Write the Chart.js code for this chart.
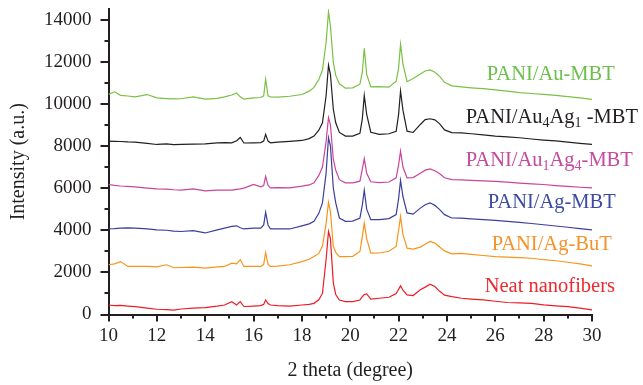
<!DOCTYPE html>
<html lang="en">
<head>
<meta charset="UTF-8" />
<title>XRD patterns - PANI nanofibers</title>
<script src="https://cdn.jsdelivr.net/npm/chart.js"></script>
<style>
  body { margin: 0; background: #fff; }
  #wrap { width: 643px; height: 385px; }
</style>
</head>
<body>
<div id="wrap"><canvas id="xrdChart" width="643" height="385"></canvas></div>
<script>
// 2 theta positions (degree) where the patterns were read
const twoTheta = [10, 10.25, 10.5, 10.8, 11.1, 11.6, 12, 12.4, 12.7, 13, 13.5, 14, 14.5, 14.8, 15.1,
  15.3, 15.45, 15.6, 16, 16.3, 16.42, 16.5, 16.6, 16.7, 17, 17.5, 18, 18.3, 18.5, 18.7,
  18.85, 19, 19.1, 19.18, 19.3, 19.4, 19.55, 19.8, 20.1, 20.4, 20.5, 20.58, 20.68, 20.85, 21.2,
  21.6, 21.9, 22.0, 22.08, 22.18, 22.35, 22.6, 22.9, 23.1, 23.3, 23.5, 23.7, 23.9, 24.2, 24.6,
  25, 25.5, 26, 26.5, 27, 27.5, 28, 28.5, 29, 29.5, 30];

const auMBT = [10450, 10570, 10400, 10370, 10330, 10440, 10280, 10250, 10230, 10240, 10330, 10220, 10260, 10330, 10420,
  10510, 10330, 10220, 10280, 10300, 10380, 11170, 10380, 10330, 10320, 10360, 10440, 10600, 10780, 11150,
  11600, 12900, 14370, 13700, 11970, 11350, 10950, 10740, 10760, 10930, 11500, 12640, 11400, 10800, 10820,
  10790, 11070, 11700, 12830, 11900, 11050, 11200, 11420, 11560, 11610, 11500, 11300, 11020, 10850, 10800,
  10760, 10720, 10660, 10600, 10530, 10490, 10450, 10400, 10340, 10280, 10210];

const au4ag1MBT = [8230, 8220, 8210, 8190, 8180, 8120, 8070, 8100, 8060, 8070, 8090, 8100, 8150, 8160, 8150,
  8250, 8400, 8140, 8150, 8160, 8230, 8550, 8230, 8150, 8180, 8220, 8260, 8350, 8470, 8750,
  9100, 10370, 11830, 11400, 9740, 9100, 8640, 8470, 8470, 8600, 9300, 10400, 9500, 8650, 8550,
  8580, 8700, 9500, 10610, 9700, 8700, 8640, 9020, 9250, 9290, 9240, 9050, 8760, 8630, 8620,
  8580, 8530, 8470, 8430, 8390, 8330, 8280, 8240, 8180, 8120, 8070];

const au1ag4MBT = [6170, 6130, 6100, 6080, 6060, 6000, 5960, 5950, 5920, 5900, 5960, 5870, 5900, 5900, 5900,
  5940, 5960, 6000, 6170, 6060, 6120, 6560, 6120, 6010, 6020, 6010, 6090, 6150, 6250, 6600,
  7000, 8200, 9350, 9000, 7360, 6850, 6400, 6250, 6250, 6330, 6900, 7400, 6700, 6300, 6260,
  6290, 6490, 7100, 7750, 7000, 6490, 6500, 6700, 6850, 6910, 6820, 6680, 6490, 6400, 6390,
  6370, 6340, 6320, 6280, 6240, 6200, 6170, 6120, 6080, 6040, 6010];

const agMBT = [4070, 4080, 4100, 4110, 4100, 4060, 4020, 4000, 3960, 3940, 3980, 3870, 4020, 4100, 4180,
  4210, 4120, 4060, 4100, 4100, 4250, 4850, 4250, 4060, 4070, 4060, 4210, 4300, 4420, 4800,
  5300, 6700, 8390, 8000, 6000, 5300, 4580, 4420, 4430, 4580, 5200, 5900, 5000, 4500, 4500,
  4550, 4740, 5500, 6360, 5600, 4820, 4760, 5050, 5210, 5300, 5180, 4980, 4740, 4580, 4570,
  4540, 4500, 4470, 4420, 4370, 4320, 4260, 4200, 4140, 4080, 4020];

const agBuT = [2360, 2400, 2510, 2280, 2290, 2280, 2260, 2360, 2220, 2230, 2250, 2200, 2260, 2280, 2440,
  2400, 2600, 2280, 2290, 2280, 2380, 2940, 2380, 2280, 2300, 2360, 2510, 2620, 2750, 2900,
  3250, 4300, 5330, 4900, 3230, 2950, 2750, 2750, 2760, 2990, 3700, 4340, 3600, 2910, 2920,
  3000, 3230, 4000, 4660, 3800, 3150, 3100, 3200, 3330, 3470, 3390, 3200, 3020, 2880, 2900,
  2850, 2800, 2750, 2720, 2700, 2670, 2600, 2550, 2480, 2400, 2310];

const neatFibers = [450, 420, 430, 400, 370, 300, 250, 230, 210, 260, 300, 330, 400, 450, 610,
  450, 610, 380, 400, 420, 480, 690, 520, 450, 420, 400, 450, 480, 530, 700,
  1000, 2600, 3940, 3600, 1490, 950, 690, 610, 610, 690, 850, 950, 980, 730, 770,
  820, 1000, 1200, 1360, 1150, 930, 900, 1170, 1300, 1440, 1330, 1100, 920, 850, 770,
  730, 690, 630, 570, 550, 530, 460, 410, 370, 300, 220];

const xTicks = [10, 12, 14, 16, 18, 20, 22, 24, 26, 28, 30];
const yTicks = [0, 2000, 4000, 6000, 8000, 10000, 12000, 14000];

const ink = '#231f20';
const serif = '"Liberation Serif", "DejaVu Serif", serif';

const pts = ys => twoTheta.map((t, i) => ({ x: t, y: ys[i] }));

const line = (label, ys, color) => ({
  label, data: pts(ys), borderColor: color, borderWidth: 1.2,
  pointRadius: 0, tension: 0, fill: false
});

// series names written next to each pattern (with subscripts)
const tags = [
  { parts: [['PANI/Au-MBT']], at: [25.65, 11400], color: '#6cbf4b' },
  { parts: [['PANI/Au'], ['4', 1], ['Ag'], ['1', 1], [' -MBT']], at: [24.78, 9330], color: ink },
  { parts: [['PANI/Au'], ['1', 1], ['Ag'], ['4', 1], ['-MBT']], at: [24.78, 7290], color: '#c44a9e' },
  { parts: [['PANI/Ag-MBT']], at: [25.69, 5310], color: '#3d4ca2' },
  { parts: [['PANI/Ag-BuT']], at: [25.85, 3310], color: '#f7922a' },
  { parts: [['Neat nanofibers']], at: [25.56, 1320], color: '#ec2a2f' }
];

const tagPlugin = {
  id: 'tags',
  afterDatasetsDraw(chart) {
    const { ctx, scales: { x, y } } = chart;
    ctx.save();
    ctx.textBaseline = 'middle';
    ctx.textAlign = 'left';
    tags.forEach(tag => {
      let px = x.getPixelForValue(tag.at[0]);
      const py = y.getPixelForValue(tag.at[1]);
      ctx.fillStyle = tag.color;
      tag.parts.forEach(([txt, sub]) => {
        ctx.font = (sub ? '14px ' : '20.5px ') + serif;
        ctx.fillText(txt, px, sub ? py + 5 : py);
        px += ctx.measureText(txt).width;
      });
    });
    ctx.restore();
  }
};

// major and minor tick marks on both axes
const tickPlugin = {
  id: 'tickMarks',
  afterDraw(chart) {
    const { ctx, chartArea, scales: { x, y } } = chart;
    ctx.save();
    ctx.strokeStyle = ink;
    ctx.lineWidth = 2;
    ctx.beginPath();
    for (let v = 10; v <= 30; v++) {
      const px = Math.round(x.getPixelForValue(v));
      const len = v % 2 === 0 ? 7 : 4;
      ctx.moveTo(px, chartArea.bottom);
      ctx.lineTo(px, chartArea.bottom + len);
    }
    for (let v = 0; v <= 14000; v += 1000) {
      const py = Math.round(y.getPixelForValue(v));
      const len = v % 2000 === 0 ? 8 : 4;
      ctx.moveTo(chartArea.left, py);
      ctx.lineTo(chartArea.left - len, py);
    }
    ctx.stroke();
    ctx.restore();
  }
};

// invisible built-in ticks only reserve the gap between axis and labels
const hiddenGrid = len => ({
  display: true, drawOnChartArea: false, drawTicks: true,
  tickLength: len, tickColor: 'rgba(0,0,0,0)'
});

new Chart(document.getElementById('xrdChart'), {
  type: 'line',
  data: {
    datasets: [
      line('PANI/Au-MBT', auMBT, '#7ac143'),
      line('PANI/Au4Ag1-MBT', au4ag1MBT, ink),
      line('PANI/Au1Ag4-MBT', au1ag4MBT, '#c9449a'),
      line('PANI/Ag-MBT', agMBT, '#3b3f9e'),
      line('PANI/Ag-BuT', agBuT, '#f7941d'),
      line('Neat nanofibers', neatFibers, '#ed1c24')
    ]
  },
  options: {
    responsive: false,
    animation: false,
    layout: { padding: { left: 7, right: 51, top: 9, bottom: 2 } },
    plugins: { legend: { display: false }, tooltip: { enabled: false } },
    scales: {
      x: {
        type: 'linear', min: 10, max: 30,
        afterBuildTicks: s => { s.ticks = xTicks.map(v => ({ value: v })); },
        afterFit: s => { s.height = 68.5; },
        grid: hiddenGrid(10),
        border: { display: true, color: ink, width: 2 },
        ticks: { padding: 0, color: ink, font: { family: serif, size: 19 }, maxRotation: 0,
          callback: v => String(v) },
        title: { display: true, text: '2 theta (degree)', color: ink, padding: 0,
          font: { family: serif, size: 20 } }
      },
      y: {
        type: 'linear', min: 0, max: 14500,
        afterBuildTicks: s => { s.ticks = yTicks.map(v => ({ value: v })); },
        afterFit: s => { s.width = 101.5; },
        grid: hiddenGrid(17),
        border: { display: true, color: ink, width: 2 },
        ticks: { padding: 0, color: ink, font: { family: serif, size: 19, lineHeight: 0.9 },
          callback: v => String(v) },
        title: { display: true, text: 'Intensity (a.u.)', color: ink, padding: 0,
          font: { family: serif, size: 20 } }
      }
    }
  },
  plugins: [tagPlugin, tickPlugin]
});
</script>
</body>
</html>
